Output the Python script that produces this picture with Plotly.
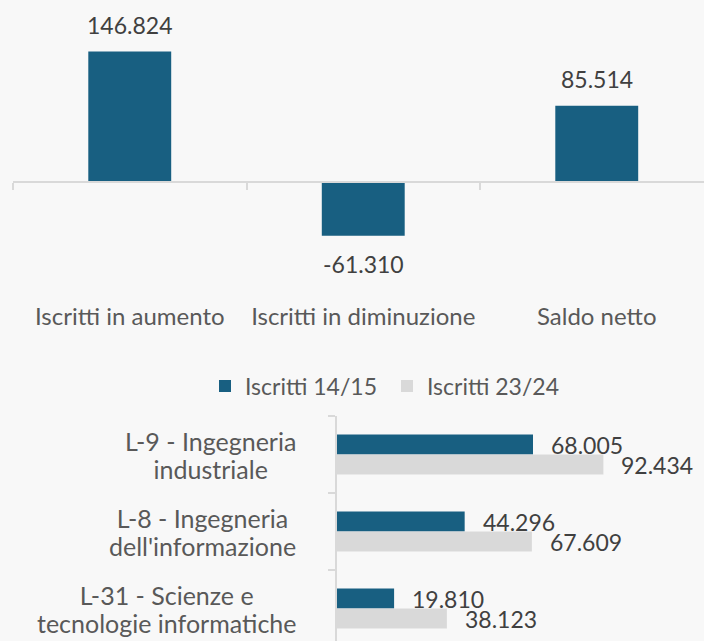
import plotly.graph_objects as go

# ---------------- data ----------------
top_categories = ["Iscritti in aumento", "Iscritti in diminuzione", "Saldo netto"]
top_values = [146824, -61310, 85514]

bottom_categories = [
    "L-9 - Ingegneria<br>industriale",
    "L-8 - Ingegneria<br>dell'informazione",
    "L-31 - Scienze e<br>tecnologie informatiche",
]
iscritti_1415 = [68005, 44296, 19810]
iscritti_2324 = [92434, 67609, 38123]
series_names = ["Iscritti 14/15", "Iscritti 23/24"]

# ---------------- style ----------------
W, H = 704, 641
BLUE = "#185f81"
GREY = "#d9d9d9"
BG = "#f8f8f8"
AXIS = "#d9d9d9"
NUM = "#404040"
LAB = "#595959"
FONT = "Lato"


def fmt(v):
    return f"{v:,}".replace(",", ".")


# top panel geometry (pixels)
T_X0, T_X1 = 13, 704
T_Y0, T_Y1 = 0, 300
T_ZERO = 181.5
T_SCALE = 130 / 146824  # px per unit
T_CAT = 233.5  # px per category

# bottom panel geometry (pixels)
B_X0, B_X1 = 337, 704
B_Y0, B_Y1 = 416, 641
B_SCALE = 196 / 68005
B_CAT = 77

fig = go.Figure()

fig.add_trace(go.Bar(
    x=top_categories, y=top_values, xaxis="x", yaxis="y",
    marker=dict(color=BLUE, line=dict(width=0)), width=0.355,
    showlegend=False, hoverinfo="skip",
))

fig.add_trace(go.Bar(
    y=bottom_categories, x=iscritti_1415, orientation="h", xaxis="x2", yaxis="y2",
    name=series_names[0], marker=dict(color=BLUE, line=dict(width=0)),
))
fig.add_trace(go.Bar(
    y=bottom_categories, x=iscritti_2324, orientation="h", xaxis="x2", yaxis="y2",
    name=series_names[1], marker=dict(color=GREY, line=dict(width=0)),
))

annotations = []
for c, v in zip(top_categories, top_values):
    annotations.append(dict(
        x=c, y=v, xref="x", yref="y", text=fmt(v), showarrow=False,
        xanchor="center", yanchor="middle", yshift=27 if v >= 0 else -28,
        font=dict(family=FONT, size=23, color=NUM),
    ))
for vals, shift in ((iscritti_1415, 10), (iscritti_2324, -10)):
    for c, v in zip(bottom_categories, vals):
        annotations.append(dict(
            x=v, y=c, xref="x2", yref="y2", text=fmt(v), showarrow=False,
            xanchor="left", yanchor="middle", xshift=16, yshift=shift,
            font=dict(family=FONT, size=23, color=NUM),
        ))
for c in bottom_categories:
    # line spacing follows the annotation font size (21.5px -> ~28px),
    # glyphs are drawn at 25px
    txt = "<br>".join(f"<span style='font-size:25px'>{ln}</span>" for ln in c.split("<br>"))
    annotations.append(dict(
        x=B_X0 / W, y=c, xref="paper", yref="y2", text=txt, showarrow=False,
        xanchor="right", yanchor="middle", align="center", xshift=-39,
        font=dict(family=FONT, size=21.5, color=LAB),
    ))

t_ymax = (T_ZERO - T_Y0) / T_SCALE
t_ymin = -(T_Y1 - T_ZERO) / T_SCALE
b_ymax = -0.5 + (B_Y1 - B_Y0) / B_CAT

fig.update_layout(
    width=W, height=H,
    margin=dict(l=0, r=0, t=0, b=0),
    paper_bgcolor=BG, plot_bgcolor=BG,
    barmode="group", bargap=0.48, bargroupgap=0,
    font=dict(family=FONT, color=LAB),
    xaxis=dict(
        domain=[T_X0 / W, T_X1 / W],
        range=[-0.5, -0.5 + (T_X1 - T_X0) / T_CAT],
        anchor="free", position=1 - T_ZERO / H,
        showline=True, linecolor=AXIS, linewidth=2,
        ticks="outside", tickson="boundaries", ticklen=7, tickwidth=2, tickcolor=AXIS,
        ticklabelstandoff=114, tickangle=0,
        tickfont=dict(family=FONT, size=24, color=LAB),
        showgrid=False, zeroline=False, fixedrange=True,
    ),
    yaxis=dict(
        domain=[1 - T_Y1 / H, 1 - T_Y0 / H],
        range=[t_ymin, t_ymax],
        visible=False, showgrid=False, zeroline=False,
    ),
    xaxis2=dict(
        domain=[B_X0 / W, B_X1 / W],
        range=[0, (B_X1 - B_X0) / B_SCALE],
        anchor="y2", visible=False, showgrid=False, zeroline=False,
    ),
    yaxis2=dict(
        domain=[1 - B_Y1 / H, 1 - B_Y0 / H],
        range=[b_ymax, -0.5],
        anchor="x2",
        showline=True, linecolor=AXIS, linewidth=2,
        ticks="outside", tickson="boundaries", ticklen=7, tickwidth=2, tickcolor=AXIS,
        showticklabels=False, showgrid=False, zeroline=False,
    ),
    legend=dict(
        orientation="h", x=205 / W, xanchor="left", y=1 - 386 / H, yanchor="middle",
        font=dict(family=FONT, size=23, color=LAB),
        bgcolor="rgba(0,0,0,0)", itemclick=False, itemdoubleclick=False,
        traceorder="normal", entrywidth=137, entrywidthmode="pixels",
    ),
    annotations=annotations,
)

fig.write_html(
    "out.html",
    config={"displayModeBar": False, "staticPlot": True},
    post_script="document.body.style.margin='0';document.body.style.overflow='hidden';",
)
